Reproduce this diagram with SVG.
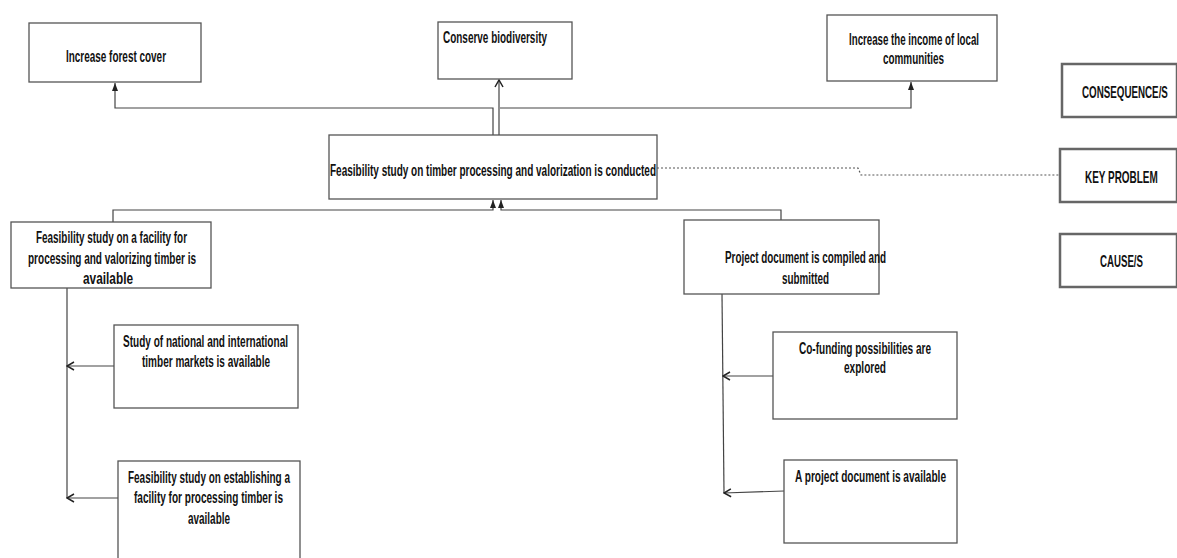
<svg xmlns="http://www.w3.org/2000/svg" width="1177" height="558" viewBox="0 0 1177 558">
<style>
.box{fill:#fff;stroke:#555;stroke-width:1.3}
.leg{fill:#fff;stroke:#666;stroke-width:2.5}
.t{font-family:"Liberation Sans",Arial,sans-serif;font-size:16px;font-weight:bold;fill:#111}
.c{fill:none;stroke:#444;stroke-width:1.2}
.d{fill:none;stroke:#555;stroke-width:1.2;stroke-dasharray:2,2}
</style>
<defs>
<marker id="fa" viewBox="0 0 8 6" refX="8" refY="3" markerWidth="8" markerHeight="6" markerUnits="userSpaceOnUse" orient="auto">
<path d="M0,0 L8,3 L0,6 Z" fill="#222"/>
</marker>
<marker id="oa" viewBox="0 0 10 10" refX="9" refY="5" markerWidth="10" markerHeight="10" markerUnits="userSpaceOnUse" orient="auto">
<path d="M2,1 L9,5 L2,9" fill="none" stroke="#222" stroke-width="1.5"/>
</marker>
</defs>
<rect width="1177" height="558" fill="#fff"/>
<g id="connectors">
<path class="c" d="M493,136 V108 H115 V83" marker-end="url(#fa)"/>
<path class="c" d="M499,136 V80" marker-end="url(#oa)"/>
<path class="c" d="M500,108 H911 V82" marker-end="url(#fa)"/>
<path class="c" d="M113,222 V210 H493 V200" marker-end="url(#fa)"/>
<path class="c" d="M781,220 V210 H501 V200" marker-end="url(#fa)"/>
<path class="d" d="M657,168 H858 L861,175 H1059"/>
<path class="c" d="M67,288 V498"/>
<path class="c" d="M114,366 L67,366" marker-end="url(#oa)"/>
<path class="c" d="M118,498 L67,498" marker-end="url(#oa)"/>
<path class="c" d="M722,294 L724,493"/>
<path class="c" d="M773,376 L723,376" marker-end="url(#oa)"/>
<path class="c" d="M784,491 L724,493" marker-end="url(#oa)"/>
</g>
<g id="n_forest">
<rect class="box" x="29" y="23" width="172" height="59"/>
<text class="t" x="66" y="62" textLength="100" lengthAdjust="spacingAndGlyphs">Increase forest cover</text>
</g>
<g id="n_biodiversity">
<rect class="box" x="438" y="22" width="134" height="57"/>
<text class="t" x="443" y="43" textLength="104" lengthAdjust="spacingAndGlyphs">Conserve biodiversity</text>
</g>
<g id="n_income">
<rect class="box" x="827" y="15" width="170" height="66"/>
<text class="t" x="849" y="45" textLength="130" lengthAdjust="spacingAndGlyphs">Increase the income of local</text>
<text class="t" x="883" y="64" textLength="61" lengthAdjust="spacingAndGlyphs">communities</text>
</g>
<g id="n_consequence">
<rect class="leg" x="1062" y="64" width="115" height="53"/>
<text class="t" transform="translate(1082,98) scale(0.612,1)" x="0" y="0">CONSEQUENCE/S</text>
</g>
<g id="n_central">
<rect class="box" x="329" y="135" width="328" height="64"/>
<text class="t" x="330" y="176" textLength="326" lengthAdjust="spacingAndGlyphs">Feasibility study on timber processing and valorization is conducted</text>
</g>
<g id="n_keyproblem">
<rect class="leg" x="1060" y="149" width="117" height="53"/>
<text class="t" transform="translate(1085,183) scale(0.622,1)" x="0" y="0">KEY PROBLEM</text>
</g>
<g id="n_cause">
<rect class="leg" x="1060" y="234" width="117" height="53"/>
<text class="t" x="1100" y="267" textLength="43" lengthAdjust="spacingAndGlyphs">CAUSE/S</text>
</g>
<g id="n_facility">
<rect class="box" x="11" y="222" width="200" height="66"/>
<text class="t" x="36" y="243" textLength="151" lengthAdjust="spacingAndGlyphs">Feasibility study on a facility for</text>
<text class="t" x="28" y="264" textLength="168" lengthAdjust="spacingAndGlyphs">processing and valorizing timber is</text>
<text class="t" x="83" y="284" textLength="50" lengthAdjust="spacingAndGlyphs">available</text>
</g>
<g id="n_markets">
<rect class="box" x="114" y="325" width="184" height="83"/>
<text class="t" x="123" y="347" textLength="165" lengthAdjust="spacingAndGlyphs">Study of national and international</text>
<text class="t" x="142" y="367" textLength="128" lengthAdjust="spacingAndGlyphs">timber markets is available</text>
</g>
<g id="n_establishing">
<rect class="box" x="118" y="461" width="182" height="105"/>
<text class="t" x="128" y="483" textLength="162" lengthAdjust="spacingAndGlyphs">Feasibility study on establishing a</text>
<text class="t" x="134" y="503" textLength="149" lengthAdjust="spacingAndGlyphs">facility for processing timber is</text>
<text class="t" x="188" y="524" textLength="42" lengthAdjust="spacingAndGlyphs">available</text>
</g>
<g id="n_project">
<rect class="box" x="684" y="220" width="195" height="74"/>
<text class="t" x="725" y="263" textLength="161" lengthAdjust="spacingAndGlyphs">Project document is compiled and</text>
<text class="t" x="782" y="284" textLength="47" lengthAdjust="spacingAndGlyphs">submitted</text>
</g>
<g id="n_cofunding">
<rect class="box" x="773" y="332" width="184" height="87"/>
<text class="t" x="799" y="354" textLength="132" lengthAdjust="spacingAndGlyphs">Co-funding possibilities are</text>
<text class="t" x="844" y="373" textLength="42" lengthAdjust="spacingAndGlyphs">explored</text>
</g>
<g id="n_document">
<rect class="box" x="784" y="460" width="173" height="83"/>
<text class="t" x="795" y="482" textLength="151" lengthAdjust="spacingAndGlyphs">A project document is available</text>
</g>
</svg>
